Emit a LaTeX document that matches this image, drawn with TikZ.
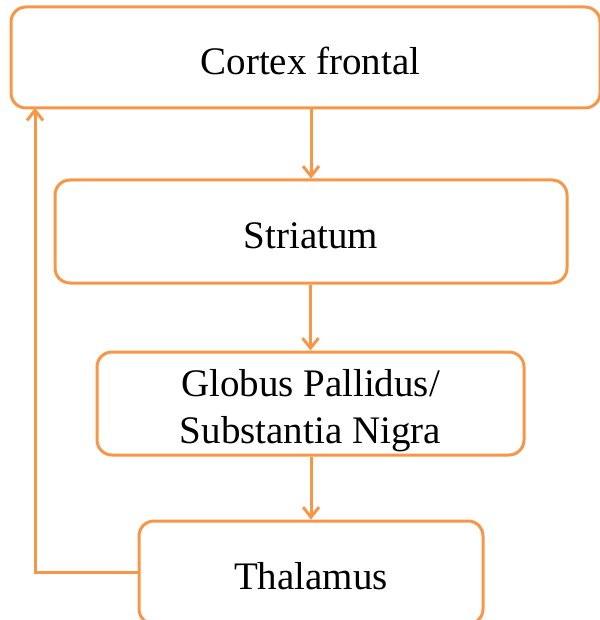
\documentclass[tikz,border=0pt]{standalone}
\usepackage{fontspec}
\setmainfont{Liberation Serif}
\usetikzlibrary{arrows.meta,calc}
\definecolor{boxorange}{HTML}{F79646}
\begin{document}
\begin{tikzpicture}[x=1pt,y=-1pt,
  box/.style={draw=boxorange,line width=3pt,rounded corners=15pt,fill=white,
    align=center,inner sep=0pt,font=\fontsize{39}{47}\selectfont},
  one/.style={text height=43pt,text depth=9pt},
  arr/.style={draw=boxorange,line width=3pt,-{Straight Barb[length=10pt,width=16pt,line width=3pt]}}]
\useasboundingbox (0,0) rectangle (599,620);
\node[box,one,minimum width=589pt,minimum height=101pt] (top) at (305.5,57.5) {\hspace*{10pt}Cortex frontal};
\node[box,one,minimum width=512pt,minimum height=103pt] (str) at (311,231.5) {Striatum};
\node[box,minimum width=427pt,minimum height=103pt] (gp) at (310.5,403.5) {\rule{0pt}{42pt}Globus Pallidus/\\Substantia Nigra};
\node[box,one,minimum width=344pt,minimum height=103pt] (th) at (311,572.5) {Thalamus};
\coordinate (fb) at (35,108);
\draw[arr] (str.north |- top.south) -- (str.north);
\draw[arr] (gp.north |- str.south) -- (gp.north);
\draw[arr] (th.north |- gp.south) -- (th.north);
\draw[arr] (th.west) -| (fb);
\end{tikzpicture}
\end{document}
